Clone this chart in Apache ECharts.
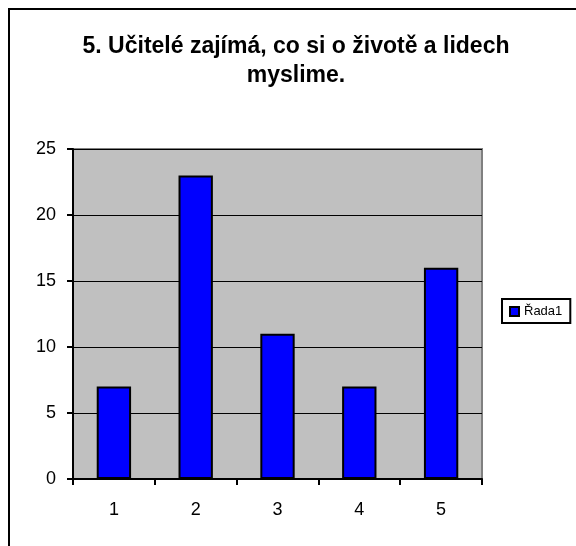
<!DOCTYPE html>
<html>
<head>
<meta charset="utf-8">
<script src="https://cdn.jsdelivr.net/npm/echarts@6/dist/echarts.min.js"></script>
<style>
  html, body { margin: 0; padding: 0; background: #fff; }
  #frame { position: absolute; left: 8px; top: 8px; width: 600px; height: 600px;
           border-left: 2px solid #000; border-top: 2px solid #000; }
  #chart { position: absolute; left: 0; top: 0; width: 576px; height: 546px; }
</style>
</head>
<body>
<div id="frame"></div>
<div id="chart"></div>
<script>
var categories = ['1', '2', '3', '4', '5'];
var seriesName = 'Řada1';
var values = [7, 23, 11, 7, 16];
var titleText = '5. Učitelé zajímá, co si o životě a lidech\nmyslime.';

var chart = echarts.init(document.getElementById('chart'));
var font = 'Liberation Sans, Arial, sans-serif';

var option = {
    animation: false,
    title: {
        text: titleText,
        left: 291,
        textAlign: 'center',
        top: 27,
        textStyle: {
            fontFamily: font,
            fontSize: 23,
            fontWeight: 'bold',
            color: '#000',
            lineHeight: 29
        }
    },
    legend: {
        data: [seriesName],
        orient: 'vertical',
        left: 502,
        top: 299,
        padding: [6, 8, 5, 7],
        borderColor: '#000',
        borderWidth: 2,
        itemWidth: 9,
        itemHeight: 9,
        itemGap: 0,
        icon: 'rect',
        textStyle: { fontFamily: font, fontSize: 13, color: '#000' }
    },
    grid: {
        left: 73,
        right: 94,
        top: 149,
        bottom: 67,
        show: true,
        backgroundColor: '#C0C0C0',
        borderColor: '#808080',
        borderWidth: 2
    },
    xAxis: {
        type: 'category',
        data: categories,
        axisLine: { show: true, lineStyle: { color: '#000', width: 2 } },
        axisTick: { show: true, length: 6, lineStyle: { color: '#000', width: 2 } },
        axisLabel: { fontFamily: font, fontSize: 18, color: '#000', margin: 22 }
    },
    yAxis: {
        type: 'value',
        min: 0,
        max: 25,
        interval: 5,
        axisLine: { show: true, lineStyle: { color: '#000', width: 2 } },
        axisTick: { show: true, length: 6, lineStyle: { color: '#000', width: 2 } },
        axisLabel: { fontFamily: font, fontSize: 18, color: '#000', margin: 17 },
        splitLine: { show: true, lineStyle: { color: '#000', width: 1 } }
    },
    series: [{
        name: seriesName,
        type: 'bar',
        data: values,
        barCategoryGap: '58%',
        itemStyle: { color: '#0000FF', borderColor: '#000', borderWidth: 2 }
    }]
};

chart.setOption(option);
</script>
</body>
</html>
